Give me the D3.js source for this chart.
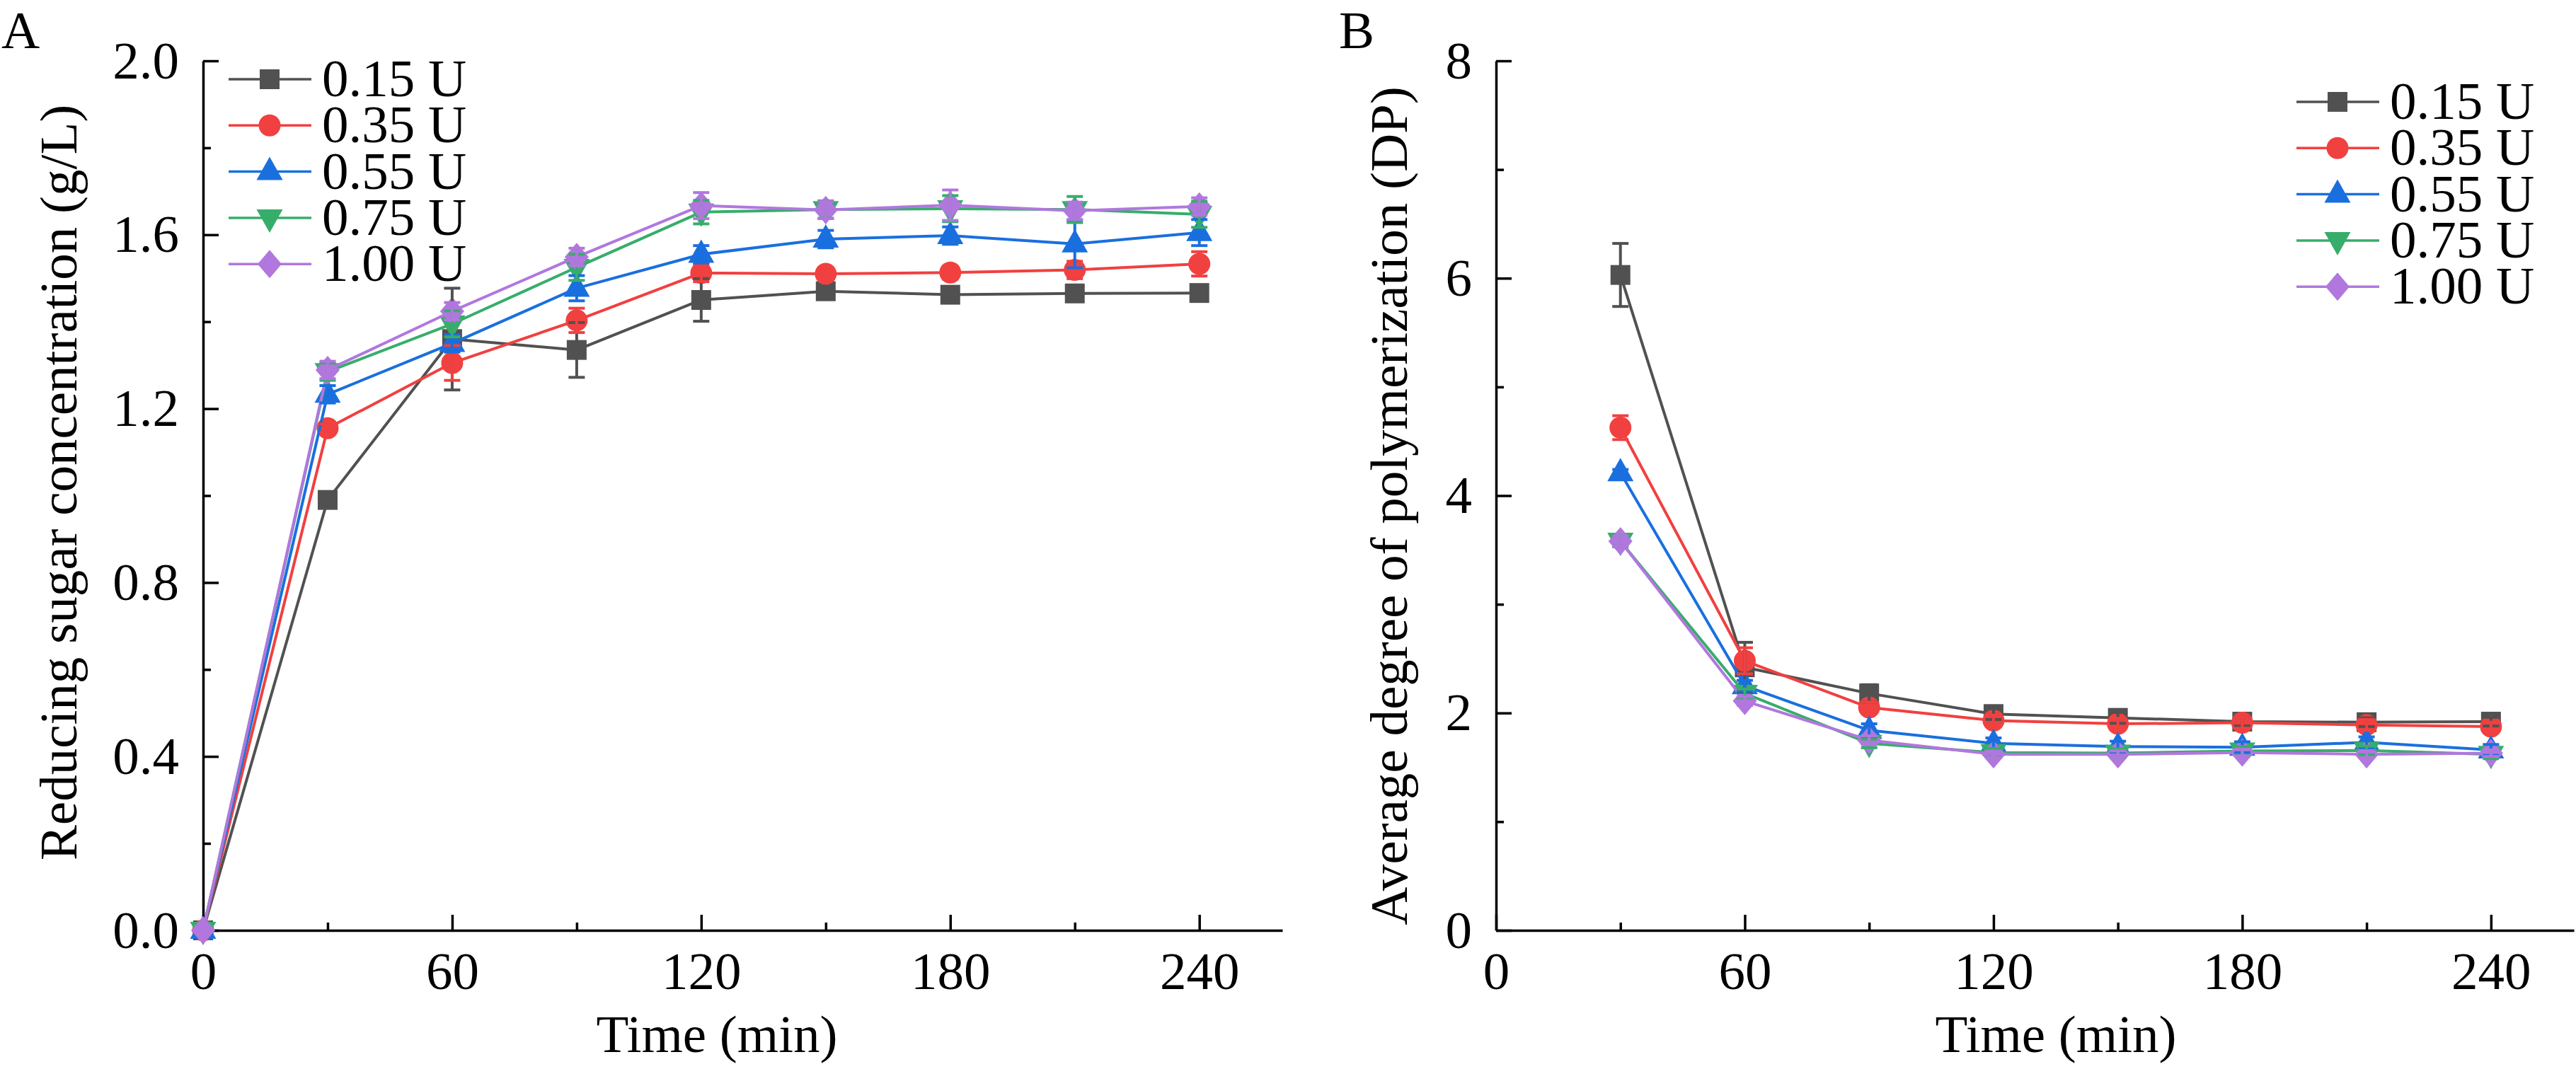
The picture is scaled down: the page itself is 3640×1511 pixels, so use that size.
<!DOCTYPE html>
<html lang="en">
<head>
<meta charset="UTF-8">
<title>Reducing sugar and DP vs time</title>
<script src="https://d3js.org/d3.v7.min.js"></script>
<style>
    body, html { margin: 0; background: #ffffff; }
    svg { display: block; }
    text { fill: #000; }
</style>
</head>
<body>
<svg id="chart" width="3640" height="1511"></svg>
<script>
// ---- data ----
const seriesNames = ["0.15 U", "0.35 U", "0.55 U", "0.75 U", "1.00 U"];

// panel A: reducing sugar (g/L)
const timeA = [0, 30, 60, 90, 120, 150, 180, 210, 240];
const sugar015 = [0, 0.99, 1.36, 1.335, 1.45, 1.47, 1.462, 1.465, 1.466];
const sugar035 = [0, 1.155, 1.305, 1.403, 1.512, 1.51, 1.513, 1.519, 1.533];
const sugar055 = [0, 1.233, 1.35, 1.477, 1.555, 1.59, 1.598, 1.579, 1.605];
const sugar075 = [0, 1.285, 1.395, 1.525, 1.652, 1.658, 1.66, 1.658, 1.647];
const sugar100 = [0, 1.289, 1.424, 1.549, 1.667, 1.657, 1.668, 1.655, 1.665];
const sugarErr015 = [0, 0.01, 0.117, 0.063, 0.049, 0.01, 0.01, 0.01, 0.01];
const sugarErr035 = [0, 0.01, 0.04, 0.028, 0.02, 0.015, 0.015, 0.02, 0.028];
const sugarErr055 = [0, 0.02, 0.02, 0.029, 0.02, 0.02, 0.02, 0.055, 0.03];
const sugarErr075 = [0, 0.02, 0.03, 0.03, 0.027, 0.02, 0.03, 0.03, 0.03];
const sugarErr100 = [0, 0.02, 0.02, 0.02, 0.03, 0.02, 0.035, 0.02, 0.02];

// panel B: average degree of polymerization
const timeB = [30, 60, 90, 120, 150, 180, 210, 240];
const dp015 = [6.03, 2.42, 2.18, 1.99, 1.955, 1.92, 1.915, 1.92];
const dp035 = [4.625, 2.48, 2.05, 1.93, 1.90, 1.91, 1.89, 1.875];
const dp055 = [4.21, 2.25, 1.84, 1.72, 1.69, 1.685, 1.73, 1.66];
const dp075 = [3.58, 2.18, 1.72, 1.635, 1.63, 1.65, 1.655, 1.62];
const dp100 = [3.58, 2.11, 1.75, 1.62, 1.62, 1.635, 1.62, 1.63];
const dpErr015 = [0.29, 0.23, 0.08, 0.05, 0.05, 0.04, 0.04, 0.04];
const dpErr035 = [0.11, 0.12, 0.05, 0.05, 0.05, 0.05, 0.05, 0.04];
const dpErr055 = [0.03, 0.05, 0.06, 0.05, 0.05, 0.05, 0.05, 0.05];
const dpErr075 = [0.05, 0.04, 0.04, 0.04, 0.04, 0.04, 0.04, 0.04];
const dpErr100 = [0.05, 0.04, 0.04, 0.03, 0.03, 0.03, 0.03, 0.03];

const xMajorTicks = [0, 60, 120, 180, 240];
const xMinorTicks = [30, 90, 150, 210];
const yMajorTicksA = [0, 0.4, 0.8, 1.2, 1.6, 2.0];
const yMinorTicksA = [0.2, 0.6, 1.0, 1.4, 1.8];
const yMajorTicksB = [0, 2, 4, 6, 8];
const yMinorTicksB = [1, 3, 5, 7];

// ---- styling ----
const colors = ["#515151", "#F14040", "#1A6FDF", "#37AD6B", "#B177DE"];
const shapes = ["square", "circle", "triangle", "triangleDown", "diamond"];
const lineW = 4;
const fontSize = 75;

// pick the first serif face that is really installed
function hasFont(name) {
    const ctx = document.createElement("canvas").getContext("2d");
    const s = "Reducing sugar concentration (g/L) 0.15 U";
    ctx.font = "75px monospace";
    const w0 = ctx.measureText(s).width;
    ctx.font = `75px "${name}", monospace`;
    return ctx.measureText(s).width !== w0;
}
const fontCandidates = ["Liberation Serif", "Times New Roman", "Tinos", "Nimbus Roman", "DejaVu Serif"];
const fontFound = fontCandidates.filter(hasFont);
const fontFamily = (fontFound.length ? `"${fontFound[0]}", ` : "") + "serif";

const svg = d3.select("#chart").attr("font-family", fontFamily);

function markerPath(shape) {
    const p = d3.path();
    if (shape === "square") {
        p.rect(-14, -14, 28, 28);
    } else if (shape === "circle") {
        p.arc(0, 0, 15.5, 0, 2 * Math.PI);
    } else if (shape === "triangle") {
        p.moveTo(0, -21); p.lineTo(18.5, 12); p.lineTo(-18.5, 12); p.closePath();
    } else if (shape === "triangleDown") {
        p.moveTo(0, 21); p.lineTo(18.5, -12); p.lineTo(-18.5, -12); p.closePath();
    } else {
        p.moveTo(0, -20); p.lineTo(17, 0); p.lineTo(0, 20); p.lineTo(-17, 0); p.closePath();
    }
    return p.toString();
}

// squeeze a text to the width measured on the reference if the face runs wider
function fitText(sel, target) {
    const len = sel.node().getComputedTextLength();
    if (Math.abs(len - target) / target > 0.03) {
        sel.attr("textLength", target).attr("lengthAdjust", "spacingAndGlyphs");
    }
    return sel;
}

function drawPanel(cfg) {
    const g = svg.append("g");
    const x = d3.scaleLinear().domain([0, 260]).range([cfg.x0, cfg.x1]);
    const y = d3.scaleLinear().domain(cfg.yDomain).range([1315, 86]);

    // axes (ticks point inward)
    const xAxis = g.append("g").attr("transform", "translate(0,1315)")
        .call(d3.axisBottom(x).tickValues(xMajorTicks).tickSize(-22).tickSizeOuter(0).tickPadding(30));
    g.append("g").attr("transform", "translate(0,1315)")
        .call(d3.axisBottom(x).tickValues(xMinorTicks).tickSize(-11).tickFormat(""))
        .select(".domain").remove();
    g.append("g").attr("transform", `translate(${cfg.x0},0)`)
        .call(d3.axisLeft(y).tickValues(cfg.yMajor).tickSize(-22).tickSizeOuter(0)
            .tickPadding(34).tickFormat(cfg.yFormat));
    g.append("g").attr("transform", `translate(${cfg.x0},0)`)
        .call(d3.axisLeft(y).tickValues(cfg.yMinor).tickSize(-11).tickFormat(""))
        .select(".domain").remove();
    g.selectAll("g").attr("font-family", null).attr("font-size", null);
    g.selectAll(".tick text").attr("font-size", fontSize);
    g.selectAll(".domain, .tick line").attr("stroke", "#000").attr("stroke-width", 3.5);
    xAxis.selectAll(".tick text").attr("dy", "0.71em");

    // lines and markers
    cfg.values.forEach((vals, i) => {
        const pts = cfg.times.map((t, j) => [t, vals[j]]);
        g.append("path")
            .attr("d", d3.line().x(d => x(d[0])).y(d => y(d[1]))(pts))
            .attr("fill", "none").attr("stroke", colors[i])
            .attr("stroke-width", lineW).attr("stroke-linejoin", "round");
        g.selectAll(null).data(pts).join("path")
            .attr("transform", d => `translate(${x(d[0])},${y(d[1])})`)
            .attr("d", markerPath(shapes[i]))
            .attr("fill", colors[i]);
    });

    // error bars on top
    cfg.values.forEach((vals, i) => {
        const errs = cfg.errors[i];
        const bars = cfg.times.map((t, j) => ({t: t, v: vals[j], e: errs[j]})).filter(d => d.e > 0);
        const eb = g.append("g").attr("stroke", colors[i]).attr("stroke-width", lineW);
        eb.selectAll(null).data(bars).join("line")
            .attr("x1", d => x(d.t)).attr("x2", d => x(d.t))
            .attr("y1", d => y(d.v - d.e)).attr("y2", d => y(d.v + d.e));
        [-1, 1].forEach(s => {
            eb.selectAll(null).data(bars).join("line")
                .attr("x1", d => x(d.t) - 11.5).attr("x2", d => x(d.t) + 11.5)
                .attr("y1", d => y(d.v + s * d.e)).attr("y2", d => y(d.v + s * d.e));
        });
    });

    // legend
    seriesNames.forEach((name, i) => {
        const cy = cfg.legendY + i * 65.3;
        g.append("line")
            .attr("x1", cfg.legendX).attr("x2", cfg.legendX + 117)
            .attr("y1", cy).attr("y2", cy)
            .attr("stroke", colors[i]).attr("stroke-width", 3.5);
        g.append("path")
            .attr("transform", `translate(${cfg.legendX + 58},${cy})`)
            .attr("d", markerPath(shapes[i])).attr("fill", colors[i]);
        g.append("text")
            .attr("x", cfg.legendX + 132).attr("y", cy + 24)
            .attr("font-size", fontSize).text(name);
    });

    // titles
    fitText(g.append("text")
        .attr("transform", `translate(${cfg.yLabelX},${cfg.yLabelY}) rotate(-90)`)
        .attr("text-anchor", "middle").attr("font-size", fontSize).text(cfg.yLabel), cfg.yLabelLen);
    fitText(g.append("text")
        .attr("x", cfg.xLabelX).attr("y", 1487)
        .attr("text-anchor", "middle").attr("font-size", fontSize).text("Time (min)"), 340);
    g.append("text")
        .attr("x", cfg.letterX).attr("y", 68)
        .attr("font-size", fontSize).text(cfg.letter);
}

drawPanel({
    letter: "A", letterX: 2,
    x0: 287, x1: 1812,
    yDomain: [0, 2], yMajor: yMajorTicksA, yMinor: yMinorTicksA, yFormat: d3.format(".1f"),
    times: timeA,
    values: [sugar015, sugar035, sugar055, sugar075, sugar100],
    errors: [sugarErr015, sugarErr035, sugarErr055, sugarErr075, sugarErr100],
    legendX: 323, legendY: 112,
    yLabel: "Reducing sugar concentration (g/L)", yLabelX: 108, yLabelY: 682, yLabelLen: 1063,
    xLabelX: 1013
});

drawPanel({
    letter: "B", letterX: 1892,
    x0: 2114, x1: 3637,
    yDomain: [0, 8], yMajor: yMajorTicksB, yMinor: yMinorTicksB, yFormat: d3.format("d"),
    times: timeB,
    values: [dp015, dp035, dp055, dp075, dp100],
    errors: [dpErr015, dpErr035, dpErr055, dpErr075, dpErr100],
    legendX: 3245, legendY: 144,
    yLabel: "Average degree of polymerization (DP)", yLabelX: 1988, yLabelY: 715, yLabelLen: 1187,
    xLabelX: 2905
});
</script>
</body>
</html>
